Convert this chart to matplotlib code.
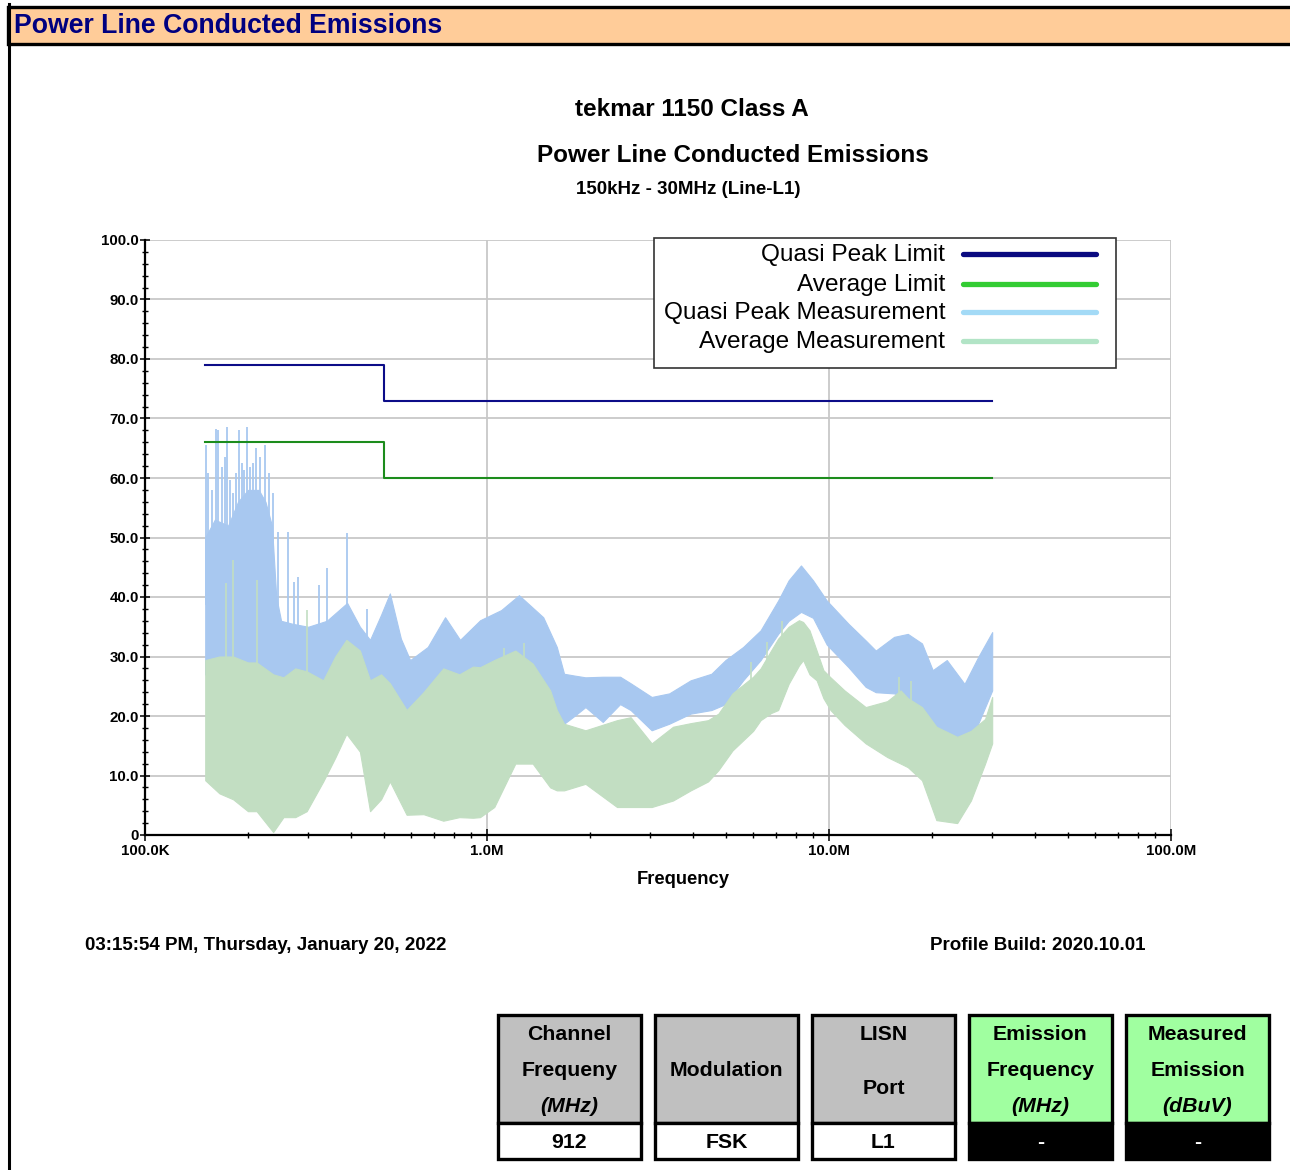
import numpy as np
import matplotlib
matplotlib.use('Agg')
import matplotlib.pyplot as plt
from matplotlib.patches import Rectangle
from matplotlib.lines import Line2D
from matplotlib.ticker import FixedLocator, FixedFormatter, MultipleLocator

plt.rcParams['font.family'] = ['Liberation Sans', 'DejaVu Sans']

# ================= DATA =================
# limit lines (MHz, dBuV)
qp_limit_freq = [0.15, 0.5, 0.5, 30.0]
qp_limit_level = [79, 79, 73, 73]
av_limit_freq = [0.15, 0.5, 0.5, 30.0]
av_limit_level = [66, 66, 60, 60]

# quasi peak measurement: band envelope (MHz, low dB, high dB)
qp_freq = [0.150, 0.160, 0.175, 0.187, 0.200, 0.215, 0.225, 0.235, 0.242, 0.250,
           0.270, 0.300, 0.340, 0.390, 0.425, 0.455, 0.490, 0.520, 0.560, 0.596,
           0.671, 0.754, 0.834, 0.955, 1.10, 1.24, 1.46, 1.60, 1.68, 1.80,
           1.94, 2.18, 2.45, 2.63, 3.03, 3.41, 3.94, 4.53, 4.98, 5.61,
           6.31, 7.10, 7.62, 8.28, 8.98, 9.85, 11.4, 12.8, 13.7, 15.5,
           17.0, 18.7, 20.1, 22.1, 24.9, 27.3, 30.0]
qp_high = [50, 53, 52, 56, 58, 58, 56, 52, 40, 36,
           35.5, 35, 36, 39, 35, 32.8, 37, 40.6, 33, 29.4,
           31.6, 36.6, 32.8, 36.1, 37.8, 40.3, 36.6, 31.6, 27.1, 26.8,
           26.5, 26.6, 26.6, 25.5, 23.2, 23.8, 26, 27.1, 29.4, 31.6,
           34.4, 39.4, 42.8, 45.3, 42.8, 39.4, 35.5, 32.7, 31, 33.3,
           33.8, 32.2, 27.7, 29.4, 25.4, 29.9, 34.1]
qp_low = [27, 26, 26, 25, 25, 24, 24, 23, 22, 20,
          21, 23, 24, 24, 22, 20, 21, 22, 17, 19,
          21, 22, 21, 21, 21, 23, 22, 19, 18.7, 20,
          21.5, 19, 22, 21, 17.6, 18.7, 20.4, 21, 22, 26,
          29.4, 33.8, 36, 37.5, 36.5, 32, 28.2, 24.9, 24, 23.8,
          23, 20.4, 17, 15.5, 13.7, 18.7, 24.3]

# quasi peak spikes in the low band (MHz, top dB)
qp_spike_freq = [0.151, 0.153, 0.157, 0.161, 0.164, 0.168, 0.171, 0.174, 0.177, 0.181,
                 0.185, 0.188, 0.192, 0.195, 0.199, 0.203, 0.207, 0.211, 0.217, 0.224,
                 0.231, 0.236, 0.245, 0.262, 0.273, 0.281, 0.323, 0.340, 0.390, 0.445]
qp_spike_top = [65.5, 60.8, 57.9, 68.3, 68.0, 61.9, 63.6, 68.6, 59.6, 57.4,
                60.8, 68.0, 62.5, 61.4, 68.6, 61.9, 62.5, 65.0, 63.6, 65.5,
                60.8, 57.4, 51.0, 51.0, 42.6, 43.4, 42.0, 44.8, 50.8, 38.0]

# average measurement: band envelope
av_freq = [0.150, 0.165, 0.181, 0.200, 0.212, 0.237, 0.254, 0.275, 0.297, 0.332,
           0.360, 0.388, 0.425, 0.455, 0.490, 0.520, 0.582, 0.652, 0.745, 0.830,
           0.910, 0.954, 1.05, 1.21, 1.36, 1.53, 1.60, 1.68, 1.94, 2.40,
           2.63, 3.03, 3.50, 3.94, 4.43, 4.75, 5.22, 6.00, 6.31, 6.77,
           7.10, 7.62, 8.17, 8.40, 8.77, 9.20, 9.63, 10.1, 11.1, 12.8,
           14.8, 16.2, 17.0, 18.7, 20.6, 23.7, 26.0, 28.6, 30.0]
av_high = [29.4, 30, 30, 29, 29, 27, 26.5, 28, 27.5, 26,
           30, 32.8, 31, 26, 27, 25.5, 21, 24, 28, 27,
           28.3, 28.2, 29.4, 31, 28.8, 24.3, 21, 18.7, 17.6, 19.3,
           19.8, 15.4, 18.2, 18.8, 19.3, 20.4, 23.8, 26.6, 28, 31,
           33, 35, 36.1, 35.8, 34.4, 31, 27.7, 26.5, 24.3, 21.5,
           22.5, 24.3, 23, 21.5, 18.2, 16.5, 17.5, 19.5, 23.2]
av_low = [9.2, 7, 6, 4, 4, 0.5, 3, 3, 4, 9,
          13, 17, 14, 4, 6, 9, 3.4, 3.5, 2.4, 3,
          2.9, 3, 4.7, 12, 12, 8, 7.5, 7.5, 8.6, 4.7,
          4.7, 4.7, 5.8, 7.5, 9, 10.9, 14.2, 17.5, 19.3, 20.5,
          21, 25.4, 28.5, 29.4, 27, 26, 23, 21, 18.5, 15.4,
          13.1, 12, 11.4, 9.2, 2.5, 2, 5.8, 12, 15.4]

# hairs sticking out of the average band (MHz, top dB)
av_spike_freq = [0.173, 0.181, 0.212, 0.297, 1.28, 1.12, 5.9, 6.6, 7.3, 16.0, 17.4]
av_spike_top = [42.3, 46.2, 42.9, 37.8, 32.2, 31.5, 29.0, 32.5, 36.0, 26.5, 25.8]

# axis ticks
x_ticks = [0.1, 1.0, 10.0, 100.0]
x_tick_labels = ['100.0K', '1.0M', '10.0M', '100.0M']
y_ticks = [0, 10, 20, 30, 40, 50, 60, 70, 80, 90, 100]
y_tick_labels = ['0', '10.0', '20.0', '30.0', '40.0', '50.0', '60.0', '70.0', '80.0', '90.0', '100.0']

legend_labels = ['Quasi Peak Limit', 'Average Limit', 'Quasi Peak Measurement', 'Average Measurement']

# result table
table_headers = [['Channel', 'Frequeny', '(MHz)'],
                 ['Modulation'],
                 ['LISN', 'Port'],
                 ['Emission', 'Frequency', '(MHz)'],
                 ['Measured', 'Emission', '(dBuV)']]
table_values = ['912', 'FSK', 'L1', '-', '-']

# ================= STYLE =================
W, H = 1290, 1170
NAVY = '#000080'
QP_LIMIT_COLOR = '#0c0c88'
AV_LIMIT_COLOR = '#1c8c1c'
QP_COLOR = '#a8c8f0'
AV_COLOR = '#c2dec2'
LEG_COLORS = ['#0a0a80', '#33cc33', '#a3daf6', '#b2e4c6']


def fx(x):
    return x / W


def fy(y):
    return 1 - y / H


def band_mid(freq, f_band, low, high):
    """middle of a band at the given frequencies (log-x), so hairs start inside it"""
    lf = np.log10(freq)
    lb = np.log10(f_band)
    return (np.interp(lf, lb, low) + np.interp(lf, lb, high)) / 2


fig = plt.figure(figsize=(W / 100, H / 100), dpi=100)

# header band (runs past the right edge, no right border)
fig.add_artist(Rectangle((fx(8), fy(44)), fx(W + 20), 37 / H, transform=fig.transFigure,
                         facecolor='#ffcc99', edgecolor='black', linewidth=2.4, zorder=1))
fig.add_artist(Line2D([fx(8.5), fx(8.5)], [fy(4), 0], transform=fig.transFigure,
                      color='black', linewidth=2.2))
fig.text(fx(14), fy(26), 'Power Line Conducted Emissions', color=NAVY,
         fontsize=19.2, fontweight='bold', ha='left', va='center')

# titles
fig.text(fx(692), fy(110), 'tekmar 1150 Class A', fontsize=17.5, fontweight='bold',
         ha='center', va='center')
fig.text(fx(733), fy(156), 'Power Line Conducted Emissions', fontsize=17.5,
         fontweight='bold', ha='center', va='center')
fig.text(fx(688), fy(189), '150kHz - 30MHz (Line-L1)', fontsize=13.5,
         fontweight='bold', ha='center', va='center')

# ================= PLOT =================
ax = fig.add_axes([fx(145), fy(835), fx(1171) - fx(145), fy(240) - fy(835)])
ax.set_xscale('log')
ax.set_xlim(0.1, 100)
ax.set_ylim(0, 100)

ax.fill_between(qp_freq, qp_low, qp_high, color=QP_COLOR, linewidth=0.8, zorder=2)
ax.vlines(qp_spike_freq, band_mid(qp_spike_freq, qp_freq, qp_low, qp_high), qp_spike_top,
          color=QP_COLOR, linewidth=1.3, zorder=2)
ax.fill_between(av_freq, av_low, av_high, color=AV_COLOR, linewidth=0.8, zorder=3)
ax.vlines(av_spike_freq, band_mid(av_spike_freq, av_freq, av_low, av_high), av_spike_top,
          color=AV_COLOR, linewidth=1.2, zorder=3)

ax.plot(qp_limit_freq, qp_limit_level, color=QP_LIMIT_COLOR, linewidth=1.5, zorder=4)
ax.plot(av_limit_freq, av_limit_level, color=AV_LIMIT_COLOR, linewidth=1.5, zorder=4)

ax.xaxis.set_major_locator(FixedLocator(x_ticks))
ax.xaxis.set_major_formatter(FixedFormatter(x_tick_labels))
ax.yaxis.set_major_locator(FixedLocator(y_ticks))
ax.yaxis.set_major_formatter(FixedFormatter(y_tick_labels))
ax.yaxis.set_minor_locator(MultipleLocator(2))

ax.grid(True, which='major', color='#c8c8c8', linewidth=1.3, zorder=0)
ax.set_axisbelow(True)
for side in ['top', 'right']:
    ax.spines[side].set_visible(False)
for side in ['left', 'bottom']:
    ax.spines[side].set_linewidth(1.6)
    ax.spines[side].set_zorder(5)

ax.tick_params(axis='both', which='major', direction='inout', length=9, width=1.1,
               labelsize=10.8, pad=2)
ax.tick_params(axis='both', which='minor', direction='inout', length=5, width=1.0)
ax.tick_params(axis='y', which='major', length=7, pad=1)
for lab in ax.get_xticklabels() + ax.get_yticklabels():
    lab.set_fontweight('bold')

ax.set_xlabel('Frequency', fontsize=13.2, fontweight='bold', va='center')
ax.xaxis.set_label_coords((683 - 145) / 1026, (835 - 880) / 595)

# legend box
fig.add_artist(Rectangle((fx(654), fy(368)), fx(1116 - 654), 130 / H, transform=fig.transFigure,
                         facecolor='white', edgecolor='#333333', linewidth=1.2, zorder=6))
leg_rows = [255, 285, 313, 342]
for label, color, y in zip(legend_labels, LEG_COLORS, leg_rows):
    fig.text(fx(945), fy(y), label, fontsize=17.6, ha='right', va='center', zorder=7)
    fig.add_artist(Line2D([fx(963), fx(1096)], [fy(y - 1), fy(y - 1)], transform=fig.transFigure,
                          color=color, linewidth=3.8, solid_capstyle='round', zorder=7))

# footer
fig.text(fx(85), fy(945), '03:15:54 PM, Thursday, January 20, 2022', fontsize=13.5,
         fontweight='bold', ha='left', va='center')
fig.text(fx(1145), fy(945), 'Profile Build: 2020.10.01', fontsize=13.5,
         fontweight='bold', ha='right', va='center')

# ================= TABLE =================
box_left = [498, 655, 812, 969, 1126]
box_w = 143
top, mid, bottom = 1015, 1123, 1159
for i, (header, value) in enumerate(zip(table_headers, table_values)):
    x0 = box_left[i]
    result_col = i >= 3
    head_fill = '#a0ffa0' if result_col else '#c0c0c0'
    val_fill = 'black' if result_col else 'white'
    val_color = 'white' if result_col else 'black'
    fig.add_artist(Rectangle((fx(x0), fy(mid)), fx(box_w), (mid - top) / H,
                             transform=fig.transFigure, facecolor=head_fill,
                             edgecolor='black', linewidth=2.4))
    fig.add_artist(Rectangle((fx(x0), fy(bottom)), fx(box_w), (bottom - mid) / H,
                             transform=fig.transFigure, facecolor=val_fill,
                             edgecolor='black', linewidth=2.4))
    cx = x0 + box_w / 2
    if len(header) == 3:
        rows = [1035, 1071, 1107]
    elif len(header) == 2:
        rows = [1035, 1088]
    else:
        rows = [1070]
    for txt, y in zip(header, rows):
        style = 'italic' if txt.startswith('(') else 'normal'
        fig.text(fx(cx), fy(y), txt, fontsize=15.3, fontweight='bold', style=style,
                 ha='center', va='center')
    fig.text(fx(cx), fy(1143), value, fontsize=15.3, fontweight='bold', color=val_color,
             ha='center', va='center')

fig.savefig('out.png', dpi=100)
